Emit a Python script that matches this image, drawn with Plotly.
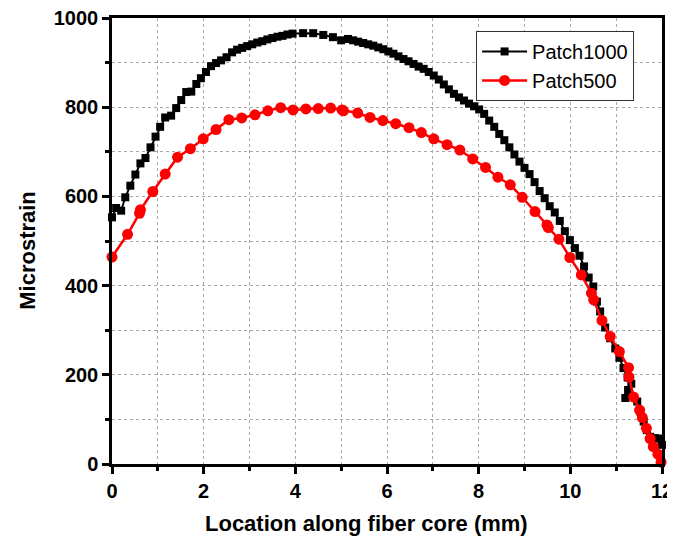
import plotly.graph_objects as go

# Patch1000 (black squares)
x_p1000 = [0.00, 0.09, 0.20, 0.29, 0.40, 0.51, 0.62, 0.73, 0.84, 0.95,
           1.05, 1.16, 1.29, 1.40, 1.51, 1.62, 1.73, 1.84, 1.94, 2.05,
           2.16, 2.27, 2.38, 2.50, 2.62, 2.73, 2.84, 2.95, 3.06, 3.17,
           3.28, 3.39, 3.50, 3.61, 3.72, 3.83, 3.94, 4.17, 4.39, 4.61,
           4.82, 5.00, 5.15, 5.26, 5.37, 5.48, 5.59, 5.70, 5.81, 5.92,
           6.03, 6.14, 6.25, 6.36, 6.47, 6.58, 6.69, 6.80, 6.91, 7.02,
           7.13, 7.24, 7.35, 7.46, 7.57, 7.68, 7.79, 7.90, 8.01, 8.12,
           8.23, 8.34, 8.45, 8.56, 8.67, 8.78, 8.89, 9.00, 9.11, 9.22,
           9.33, 9.44, 9.55, 9.66, 9.77, 9.88, 9.99, 10.10, 10.20, 10.30,
           10.40, 10.50, 10.58, 10.65, 10.76, 10.87, 10.98, 11.07, 11.16, 11.25,
           11.33, 11.26, 11.20, 11.46, 11.53, 11.60, 11.67, 11.74, 11.85, 11.96,
           12.00]
y_p1000 = [553, 574, 568, 598, 624, 649, 674, 686, 710, 734,
           756, 777, 781, 798, 816, 834, 835, 852, 865, 879,
           892, 899, 905, 912, 923, 929, 933, 937, 941, 945,
           948, 952, 955, 958, 960, 963, 965, 966, 966, 962,
           957, 950, 953, 950, 947, 944, 941, 938, 934, 930,
           925, 920, 914, 908, 903, 897, 891, 886, 879, 871,
           862, 851, 840, 830, 822, 815, 808, 802, 795, 785,
           770, 756, 740, 726, 710, 694, 678, 664, 650, 632,
           612, 596, 578, 564, 545, 522, 502, 484, 467, 443,
           418, 398, 364, 342, 306, 282, 259, 238, 215, 194,
           180, 166, 148, 140, 117, 95, 76, 61, 58, 57,
           43]

# Patch500 (red circles)
x_p500 = [0.00, 0.34, 0.60, 0.62, 0.89, 1.16, 1.43, 1.71, 1.99, 2.27,
          2.55, 2.83, 3.12, 3.40, 3.68, 3.95, 4.23, 4.50, 4.77, 5.02,
          5.05, 5.36, 5.63, 5.91, 6.19, 6.48, 6.75, 7.02, 7.31, 7.59,
          7.87, 8.15, 8.42, 8.69, 8.95, 9.23, 9.49, 9.52, 9.75, 9.99,
          10.24, 10.46, 10.51, 10.69, 10.87, 11.07, 11.27, 11.28, 11.38, 11.51,
          11.57, 11.66, 11.74, 11.81, 11.91, 11.98]
y_p500 = [464, 515, 562, 570, 611, 650, 688, 707, 729, 750,
          772, 776, 783, 792, 799, 794, 796, 797, 798, 794,
          792, 787, 777, 770, 763, 754, 743, 729, 716, 704,
          684, 665, 643, 626, 598, 566, 536, 530, 504, 463,
          424, 383, 368, 322, 286, 252, 216, 195, 150, 121,
          104, 80, 57, 39, 22, 4]

x_ticks = [0, 2, 4, 6, 8, 10, 12]
y_ticks = [0, 200, 400, 600, 800, 1000]

FONT = "Liberation Sans, Arial, sans-serif"

fig = go.Figure()
fig.add_trace(go.Scatter(
    x=x_p1000, y=y_p1000, name="Patch1000", mode="lines+markers",
    line=dict(color="black", width=2),
    marker=dict(symbol="square", size=8, color="black"),
    cliponaxis=False))
fig.add_trace(go.Scatter(
    x=x_p500, y=y_p500, name="Patch500", mode="lines+markers",
    line=dict(color="#ff0000", width=2.5),
    marker=dict(symbol="circle", size=11, color="#ff0000"),
    cliponaxis=False))

grid = dict(showgrid=True, gridcolor="#a8a8a8", gridwidth=1, griddash="dot")

fig.update_xaxes(
    range=[0, 12], tickvals=x_ticks, ticktext=[str(v) for v in x_ticks],
    showline=True, linecolor="black", linewidth=2.5, mirror=True,
    ticks="outside", ticklen=7, tickwidth=2.5, tickcolor="black",
    tickfont=dict(family=FONT, size=20, color="black", weight="bold"),
    ticklabeloverflow="allow",
    zeroline=False, automargin=False, **grid,
    minor=dict(dtick=1, ticks="outside", ticklen=4, tickwidth=2.5, tickcolor="black",
               showgrid=True, gridcolor="#a8a8a8", griddash="dot", gridwidth=1))
fig.update_yaxes(
    range=[0, 1000], tickvals=y_ticks, ticktext=[str(v) for v in y_ticks],
    showline=True, linecolor="black", linewidth=2.5, mirror=True,
    ticks="outside", ticklen=7, tickwidth=2.5, tickcolor="black",
    tickfont=dict(family=FONT, size=20, color="black", weight="bold"),
    ticklabeloverflow="allow",
    zeroline=False, automargin=False, **grid,
    minor=dict(dtick=100, ticks="outside", ticklen=4, tickwidth=2.5, tickcolor="black",
               showgrid=True, gridcolor="#a8a8a8", griddash="dot", gridwidth=1))

fig.add_annotation(text="<b>Location along fiber core (mm)</b>", xref="paper", yref="paper",
                   x=0.4636, y=-0.1345, xanchor="center", yanchor="middle", showarrow=False,
                   font=dict(family=FONT, size=22, color="black"))
fig.add_annotation(text="<b>Microstrain</b>", xref="paper", yref="paper",
                   x=-0.153, y=0.48, xanchor="center", yanchor="middle", showarrow=False,
                   textangle=-90, font=dict(family=FONT, size=22, color="black"))

fig.update_layout(
    width=675, height=539,
    margin=dict(l=104, r=21, t=10, b=83, autoexpand=False),
    paper_bgcolor="white", plot_bgcolor="white",
    showlegend=True,
    legend=dict(x=0.662, y=0.971, xanchor="left", yanchor="top",
                bgcolor="white", bordercolor="#333333", borderwidth=1,
                font=dict(family=FONT, size=20, color="black"),
                itemwidth=45, tracegroupgap=0),
)

fig.write_html("out.html")
